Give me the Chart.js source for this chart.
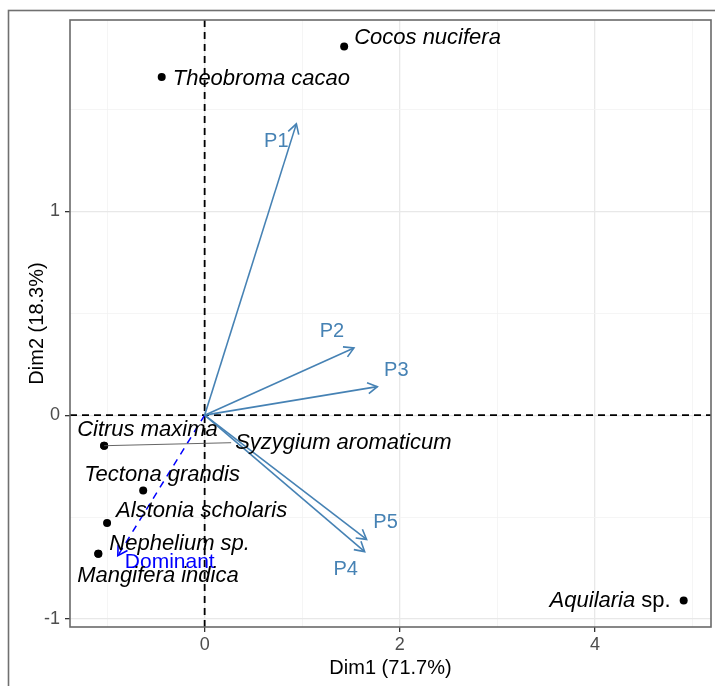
<!DOCTYPE html>
<html>
<head>
<meta charset="utf-8">
<script src="https://cdn.jsdelivr.net/npm/chart.js@4/dist/chart.umd.min.js"></script>
<style>
  html, body { margin: 0; padding: 0; background: #fff; }
  #wrap { width: 715px; height: 686px; }
</style>
</head>
<body>
<div id="wrap"><canvas id="biplot" width="715" height="686"></canvas></div>
<script>
// individuals (species) coordinates on Dim1 / Dim2
const species = ['Cocos nucifera', 'Theobroma cacao', 'Citrus maxima', 'Syzygium aromaticum',
  'Tectona grandis', 'Alstonia scholaris', 'Nephelium sp.', 'Mangifera indica', 'Aquilaria sp.'];
const dim1 = [1.43, -0.44, -1.03, -1.03, -0.63, -1.00, -1.09, -1.09, 4.91];
const dim2 = [1.81, 1.66, -0.15, -0.15, -0.37, -0.53, -0.68, -0.68, -0.91];

// variable arrows
const variables = ['P1', 'P2', 'P3', 'P4', 'P5'];
const varDim1 = [0.94, 1.53, 1.77, 1.64, 1.66];
const varDim2 = [1.43, 0.33, 0.14, -0.67, -0.61];

// supplementary variable
const suppName = 'Dominant';
const suppDim1 = -0.89;
const suppDim2 = -0.69;

// axes
const xRange = [-1.38, 5.19];
const yRange = [-1.04, 1.94];
const xGrid = [-1, 0, 1, 2, 3, 4, 5];
const yGrid = [-1, -0.5, 0, 0.5, 1, 1.5];
const xMajor = [0, 2, 4];
const yMajor = [-1, 0, 1];

// label placement (pixel offsets from the marker, like ggrepel output)
const speciesLabelPos = [
  { dx: 10, dy: -9 }, { dx: 11, dy: 2 }, { dx: -27, dy: -16 }, { dx: 131, dy: -3, segment: true },
  { dx: -59, dy: -16 }, { dx: 9, dy: -12 }, { dx: 11, dy: -10 }, { dx: -21, dy: 22 },
  { dx: -13, dy: 0, right: true }
];
const varLabelPos = [
  { dx: -20, dy: 18 }, { dx: -22, dy: -16 }, { dx: 19, dy: -16 }, { dx: -19, dy: 18 }, { dx: 19, dy: -17 }
];

const FONT = "'Liberation Sans', Arial, sans-serif";
const ARROW = '#4682B4';
const SUPP = '#0000FF';

const datasets = [];
datasets.push({
  label: 'individuals',
  data: species.map((s, i) => ({ x: dim1[i], y: dim2[i] })),
  pointRadius: 4,
  pointBackgroundColor: '#000',
  pointBorderWidth: 0,
  showLine: false
});
variables.forEach((v, i) => {
  datasets.push({
    label: v,
    data: [{ x: 0, y: 0 }, { x: varDim1[i], y: varDim2[i] }],
    showLine: true,
    borderColor: ARROW,
    borderWidth: 1.6,
    pointRadius: 0,
    arrow: true
  });
});
datasets.push({
  label: suppName,
  data: [{ x: 0, y: 0 }, { x: suppDim1, y: suppDim2 }],
  showLine: true,
  borderColor: SUPP,
  borderWidth: 1.5,
  borderDash: [7, 6],
  pointRadius: 0,
  arrow: true
});

function arrowHead(ctx, x0, y0, x1, y1, color) {
  const ang = Math.atan2(y1 - y0, x1 - x0);
  const len = 11, spread = Math.PI / 6;
  ctx.save();
  ctx.strokeStyle = color;
  ctx.lineWidth = 1.6;
  ctx.setLineDash([]);
  ctx.beginPath();
  ctx.moveTo(x1 - len * Math.cos(ang - spread), y1 - len * Math.sin(ang - spread));
  ctx.lineTo(x1, y1);
  ctx.lineTo(x1 - len * Math.cos(ang + spread), y1 - len * Math.sin(ang + spread));
  ctx.stroke();
  ctx.restore();
}

const biplotPlugin = {
  id: 'biplot',
  beforeDraw(chart) {
    const ctx = chart.ctx;
    ctx.save();
    ctx.strokeStyle = '#707070';
    ctx.lineWidth = 1.6;
    ctx.strokeRect(8.5, 10.5, 800, 800);
    ctx.restore();
  },
  beforeDatasetsDraw(chart) {
    const { ctx, chartArea: a, scales: { x, y } } = chart;
    const x0 = x.getPixelForValue(0), y0 = y.getPixelForValue(0);
    ctx.save();
    ctx.strokeStyle = '#000';
    ctx.lineWidth = 1.8;
    ctx.setLineDash([7, 5]);
    ctx.beginPath();
    ctx.moveTo(a.left, y0); ctx.lineTo(a.right, y0);
    ctx.moveTo(x0, a.top); ctx.lineTo(x0, a.bottom);
    ctx.stroke();
    ctx.restore();
  },
  afterDatasetsDraw(chart) {
    const { ctx, scales: { x, y } } = chart;
    const ox = x.getPixelForValue(0), oy = y.getPixelForValue(0);

    // arrow heads and variable labels
    ctx.save();
    ctx.textAlign = 'center';
    ctx.textBaseline = 'middle';
    variables.forEach((v, i) => {
      const px = x.getPixelForValue(varDim1[i]), py = y.getPixelForValue(varDim2[i]);
      arrowHead(ctx, ox, oy, px, py, ARROW);
      ctx.fillStyle = ARROW;
      ctx.font = '20px ' + FONT;
      ctx.fillText(v, px + varLabelPos[i].dx, py + varLabelPos[i].dy);
    });
    const sx = x.getPixelForValue(suppDim1), sy = y.getPixelForValue(suppDim2);
    arrowHead(ctx, ox, oy, sx, sy, SUPP);
    ctx.fillStyle = SUPP;
    ctx.font = '21px ' + FONT;
    ctx.textAlign = 'left';
    ctx.fillText(suppName, sx + 7, sy + 6);

    // species labels
    ctx.fillStyle = '#000';
    species.forEach((s, i) => {
      const px = x.getPixelForValue(dim1[i]), py = y.getPixelForValue(dim2[i]);
      const p = speciesLabelPos[i];
      const tx = px + p.dx, ty = py + p.dy;
      if (p.segment) {
        ctx.save();
        ctx.strokeStyle = '#555';
        ctx.lineWidth = 0.9;
        ctx.beginPath();
        ctx.moveTo(px, py);
        ctx.lineTo(tx - 4, ty);
        ctx.stroke();
        ctx.restore();
      }
      if (s === 'Aquilaria sp.') {
        ctx.font = 'italic 22px ' + FONT;
        const w1 = ctx.measureText('Aquilaria').width;
        ctx.font = '22px ' + FONT;
        const w2 = ctx.measureText(' sp.').width;
        ctx.textAlign = 'left';
        ctx.font = 'italic 22px ' + FONT;
        ctx.fillText('Aquilaria', tx - w1 - w2, ty);
        ctx.font = '22px ' + FONT;
        ctx.fillText(' sp.', tx - w2, ty);
      } else {
        ctx.font = 'italic 22px ' + FONT;
        ctx.textAlign = p.right ? 'right' : 'left';
        ctx.fillText(s, tx, ty);
      }
    });
    ctx.restore();
  },
  afterDraw(chart) {
    const { ctx, chartArea: a } = chart;
    ctx.save();
    ctx.strokeStyle = '#6A6A6A';
    ctx.lineWidth = 1.6;
    ctx.strokeRect(a.left, a.top, a.right - a.left, a.bottom - a.top);
    ctx.restore();
  }
};

const ctx = document.getElementById('biplot').getContext('2d');
new Chart(ctx, {
  type: 'scatter',
  data: { datasets: datasets },
  options: {
    responsive: false,
    animation: false,
    layout: { padding: { top: 20, right: 2, left: 0, bottom: 0 } },
    plugins: { legend: { display: false }, tooltip: { enabled: false } },
    scales: {
      x: {
        type: 'linear',
        min: xRange[0],
        max: xRange[1],
        afterBuildTicks: s => { s.ticks = xGrid.map(v => ({ value: v })); },
        afterFit: s => { s.height = 59; },
        ticks: {
          autoSkip: false,
          maxRotation: 0,
          padding: 2,
          color: '#4D4D4D',
          font: { size: 18, family: FONT },
          callback: v => xMajor.includes(v) ? String(v) : ''
        },
        grid: {
          color: c => xMajor.includes(c.tick.value) ? '#E8E8E8' : '#F3F3F3',
          lineWidth: c => xMajor.includes(c.tick.value) ? 1.3 : 0.8,
          tickLength: 5,
          tickColor: c => xMajor.includes(c.tick.value) ? '#333' : 'rgba(0,0,0,0)'
        },
        border: { display: false },
        title: {
          display: true,
          text: 'Dim1 (71.7%)',
          color: '#000',
          font: { size: 20, family: FONT },
          padding: { top: 0, bottom: 6 }
        }
      },
      y: {
        type: 'linear',
        min: yRange[0],
        max: yRange[1],
        afterBuildTicks: s => { s.ticks = yGrid.map(v => ({ value: v })); },
        afterFit: s => { s.width = 70; },
        ticks: {
          autoSkip: false,
          padding: 5,
          color: '#4D4D4D',
          font: { size: 18, family: FONT },
          callback: v => yMajor.includes(v) ? String(v) : ''
        },
        grid: {
          color: c => yMajor.includes(c.tick.value) ? '#E8E8E8' : '#F3F3F3',
          lineWidth: c => yMajor.includes(c.tick.value) ? 1.3 : 0.8,
          tickLength: 5,
          tickColor: c => yMajor.includes(c.tick.value) ? '#333' : 'rgba(0,0,0,0)'
        },
        border: { display: false },
        title: {
          display: true,
          text: 'Dim2 (18.3%)',
          color: '#000',
          font: { size: 20, family: FONT },
          padding: { top: 25, bottom: 0 }
        }
      }
    }
  },
  plugins: [biplotPlugin]
});
</script>
</body>
</html>
